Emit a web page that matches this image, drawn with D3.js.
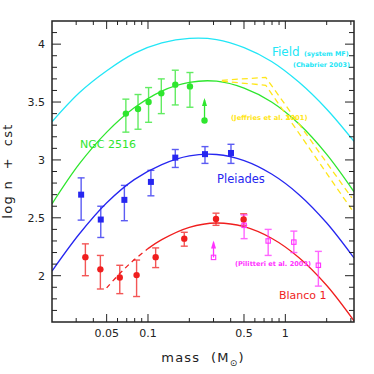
<!DOCTYPE html>
<html>
<head>
<meta charset="utf-8">
<script src="https://cdn.jsdelivr.net/npm/d3@7.9.0/dist/d3.min.js"></script>
<style>
  body { margin: 0; background: #fff; }
  svg { display: block; font-family: "DejaVu Sans", sans-serif; }
</style>
</head>
<body>
<svg id="chart" width="374" height="374"></svg>
<script>
// fitted curves (mass in Msun, log n + cst)
const fitMass = [0.02, 0.0316, 0.0501, 0.0794, 0.126, 0.2, 0.316, 0.501, 0.794, 1.259, 1.995, 3.162];
const fieldFit = [3.33, 3.58, 3.77, 3.92, 4.01, 4.05, 4.04, 3.97, 3.85, 3.67, 3.44, 3.16];
const ngcFit = [2.62, 2.965, 3.24, 3.45, 3.595, 3.67, 3.68, 3.62, 3.50, 3.31, 3.05, 2.725];
const pleiadesFit = [2.04, 2.36, 2.63, 2.83, 2.96, 3.035, 3.047, 2.994, 2.878, 2.70, 2.457, 2.153];
const blancoFitMass = [0.05, 0.063, 0.0794, 0.1, 0.126, 0.2, 0.316, 0.5, 0.794, 1.259, 1.995, 3.162];
const blancoFit = [1.895, 2.025, 2.138, 2.234, 2.312, 2.418, 2.455, 2.423, 2.323, 2.155, 1.917, 1.61];

// Jeffries et al. 2001 (two dashed lines)
const jeffriesMass = [0.345, 0.72, 3.05];
const jeffriesUpper = [3.688, 3.713, 2.672];
const jeffriesLower = [3.68, 3.645, 2.57];

// NGC 2516 points
const ngcMass = [0.069, 0.0846, 0.101, 0.125, 0.158, 0.202];
const ngcVal = [3.40, 3.44, 3.50, 3.575, 3.65, 3.635];
const ngcHi = [3.525, 3.565, 3.625, 3.70, 3.775, 3.755];
const ngcLo = [3.24, 3.265, 3.325, 3.40, 3.475, 3.455];
const ngcLimit = [0.258, 3.34, 3.535]; // mass, value, arrow tip

// Pleiades points
const plMass = [0.0326, 0.0453, 0.0673, 0.105, 0.158, 0.26, 0.402];
const plVal = [2.70, 2.485, 2.655, 2.81, 3.02, 3.05, 3.06];
const plHi = [2.845, 2.60, 2.78, 2.91, 3.09, 3.115, 3.135];
const plLo = [2.48, 2.33, 2.475, 2.69, 2.935, 2.97, 2.97];

// Blanco 1 points
const blMass = [0.035, 0.045, 0.0623, 0.0826, 0.1137, 0.1837, 0.3128, 0.497];
const blVal = [2.16, 2.055, 1.985, 2.005, 2.16, 2.32, 2.49, 2.485];
const blHi = [2.275, 2.175, 2.09, 2.135, 2.24, 2.375, 2.54, 2.535];
const blLo = [2.0, 1.885, 1.845, 1.82, 2.07, 2.255, 2.435, 2.435];

// Pilitteri et al. 2003 points
const piMass = [0.501, 0.75, 1.153, 1.74];
const piVal = [2.435, 2.30, 2.29, 2.09];
const piHi = [2.525, 2.40, 2.385, 2.21];
const piLo = [2.32, 2.175, 2.20, 1.91];
const piLimit = [0.30, 2.158, 2.305];

// axis ticks
const xMajor = [0.05, 0.1, 0.5, 1];
const xMinor = [0.03, 0.04, 0.06, 0.07, 0.08, 0.09, 0.2, 0.3, 0.4, 0.6, 0.7, 0.8, 0.9, 2, 3];
const yMajor = [2, 2.5, 3, 3.5, 4];
const yMinor = d3.range(17, 42).map(d => d / 10).filter(d => !yMajor.includes(d));

const col = {
  field: '#22e6f6', ngc: '#2ee62e', pl: '#2626f0', bl: '#f01e1e', pi: '#ff33ff', jf: '#ffe61a'
};

const svg = d3.select('#chart');
const L = 52, R = 354, T = 21, B = 322;

let x = d3.scaleLog().domain([0.02, 3.162]).range([L, R]);
let y = d3.scaleLinear().domain([1.6, 4.2]).range([B, T]);

svg.append('defs').append('clipPath').attr('id', 'clip')
  .append('rect').attr('x', L).attr('y', T).attr('width', R - L).attr('height', B - T);

const plot = svg.append('g').attr('clip-path', 'url(#clip)');

let line = d3.line()
  .x(d => x(d[0]))
  .y(d => y(d[1]))
  .curve(d3.curveCatmullRom.alpha(0.5));

function drawCurve(ms, vs, color, dash) {
  plot.append('path')
    .attr('d', line(ms.map((m, i) => [m, vs[i]])))
    .attr('fill', 'none')
    .attr('stroke', color)
    .attr('stroke-width', 1.3)
    .attr('stroke-dasharray', dash || null);
}

drawCurve(fitMass, fieldFit, col.field);
drawCurve(fitMass, ngcFit, col.ngc);
drawCurve(fitMass, pleiadesFit, col.pl);

// Blanco 1: dashed below 0.1 Msun, solid above
let blLowM = blancoFitMass.filter(m => m <= 0.1);
let blHighM = blancoFitMass.filter(m => m >= 0.1);
drawCurve(blLowM, blancoFit.slice(0, blLowM.length), col.bl, '5,4');
drawCurve(blHighM, blancoFit.slice(blancoFitMass.length - blHighM.length), col.bl);

// Jeffries dashed straight segments
let straight = d3.line().x(d => x(d[0])).y(d => y(d[1]));
[jeffriesUpper, jeffriesLower].forEach(vs => {
  plot.append('path')
    .attr('d', straight(jeffriesMass.map((m, i) => [m, vs[i]])))
    .attr('fill', 'none')
    .attr('stroke', col.jf)
    .attr('stroke-width', 1.3)
    .attr('stroke-dasharray', '6,4');
});

function errorBars(ms, hi, lo, color) {
  const g = plot.append('g').attr('stroke', color).attr('stroke-width', 1.4).attr('opacity', 0.75);
  ms.forEach((m, i) => {
    g.append('line').attr('x1', x(m)).attr('x2', x(m)).attr('y1', y(hi[i])).attr('y2', y(lo[i]));
    g.append('line').attr('x1', x(m) - 3.5).attr('x2', x(m) + 3.5).attr('y1', y(hi[i])).attr('y2', y(hi[i]));
    g.append('line').attr('x1', x(m) - 3.5).attr('x2', x(m) + 3.5).attr('y1', y(lo[i])).attr('y2', y(lo[i]));
  });
}

function arrow(lim, color) {
  const cx = x(lim[0]), y0 = y(lim[1]), y1 = y(lim[2]);
  plot.append('line').attr('x1', cx).attr('x2', cx).attr('y1', y0).attr('y2', y1 + 2)
    .attr('stroke', color).attr('stroke-width', 1.3);
  plot.append('path')
    .attr('d', `M${cx},${y1} L${cx - 2.5},${y1 + 8} L${cx + 2.5},${y1 + 8} Z`)
    .attr('fill', color);
}

errorBars(ngcMass, ngcHi, ngcLo, col.ngc);
errorBars(plMass, plHi, plLo, col.pl);
errorBars(blMass, blHi, blLo, col.bl);
errorBars(piMass, piHi, piLo, col.pi);
arrow(ngcLimit, col.ngc);
arrow(piLimit, col.pi);

// markers
ngcMass.forEach((m, i) => {
  plot.append('circle').attr('cx', x(m)).attr('cy', y(ngcVal[i])).attr('r', 3.2).attr('fill', col.ngc);
});
plot.append('circle').attr('cx', x(ngcLimit[0])).attr('cy', y(ngcLimit[1])).attr('r', 3.2).attr('fill', col.ngc);
plMass.forEach((m, i) => {
  plot.append('rect').attr('x', x(m) - 3).attr('y', y(plVal[i]) - 3).attr('width', 6).attr('height', 6).attr('fill', col.pl);
});
blMass.forEach((m, i) => {
  plot.append('circle').attr('cx', x(m)).attr('cy', y(blVal[i])).attr('r', 3.2).attr('fill', col.bl);
});
piMass.concat([piLimit[0]]).forEach((m, i) => {
  let v = i < piVal.length ? piVal[i] : piLimit[1];
  plot.append('rect').attr('x', x(m) - 2.2).attr('y', y(v) - 2.2).attr('width', 4.4).attr('height', 4.4)
    .attr('fill', 'none').attr('stroke', col.pi).attr('stroke-width', 1.1);
});

// frame and ticks
const axisCol = '#222';
svg.append('rect').attr('x', L).attr('y', T).attr('width', R - L).attr('height', B - T)
  .attr('fill', 'none').attr('stroke', axisCol).attr('stroke-width', 1.5);

const ticks = svg.append('g').attr('stroke', axisCol).attr('stroke-width', 1);
function xTick(v, len) {
  ticks.append('line').attr('x1', x(v)).attr('x2', x(v)).attr('y1', B).attr('y2', B - len);
  ticks.append('line').attr('x1', x(v)).attr('x2', x(v)).attr('y1', T).attr('y2', T + len);
}
function yTick(v, len) {
  ticks.append('line').attr('x1', L).attr('x2', L + len).attr('y1', y(v)).attr('y2', y(v));
  ticks.append('line').attr('x1', R).attr('x2', R - len).attr('y1', y(v)).attr('y2', y(v));
}
xMajor.forEach(v => xTick(v, 8));
xMinor.forEach(v => xTick(v, 4));
yMajor.forEach(v => yTick(v, 9));
yMinor.forEach(v => yTick(v, 5));

const lab = svg.append('g').attr('fill', axisCol).attr('font-size', 11);
xMajor.forEach(v => {
  lab.append('text').attr('x', x(v)).attr('y', 337).attr('text-anchor', 'middle').text(v);
});
yMajor.forEach(v => {
  lab.append('text').attr('x', 45).attr('y', y(v) + 4).attr('text-anchor', 'end').text(v);
});

// axis titles
const xt = svg.append('text').attr('x', 203).attr('y', 362).attr('text-anchor', 'middle')
  .attr('font-size', 13).attr('fill', axisCol).attr('letter-spacing', 1.2).attr('xml:space', 'preserve');
xt.append('tspan').text('mass  (M');
xt.append('tspan').attr('font-size', 9).attr('dy', 4).text('⊙');
xt.append('tspan').attr('dy', -4).text(')');

svg.append('text').attr('transform', 'translate(12,171) rotate(-90)').attr('text-anchor', 'middle')
  .attr('font-size', 13).attr('fill', axisCol).attr('letter-spacing', 1.3).attr('xml:space', 'preserve')
  .text('log n  +  cst');

// annotations
function note(tx, ty, txt, color, size, weight) {
  svg.append('text').attr('x', tx).attr('y', ty).attr('fill', color)
    .attr('font-size', size).attr('font-weight', weight || 'normal').text(txt);
}
note(272, 56, 'Field', col.field, 12);
note(304, 56, '(system MF)', col.field, 6.4, 'bold');
note(293, 67, '(Chabrier 2003)', col.field, 6.4, 'bold');
note(80, 148, 'NGC 2516', col.ngc, 11);
note(217, 183, 'Pleiades', col.pl, 11.5);
note(279, 299, 'Blanco 1', col.bl, 11);
note(231, 120, '(Jeffries et al. 2001)', col.jf, 6.8, 'bold');
note(235, 265.5, '(Pilitteri et al. 2003)', col.pi, 6.6, 'bold');
</script>
</body>
</html>
